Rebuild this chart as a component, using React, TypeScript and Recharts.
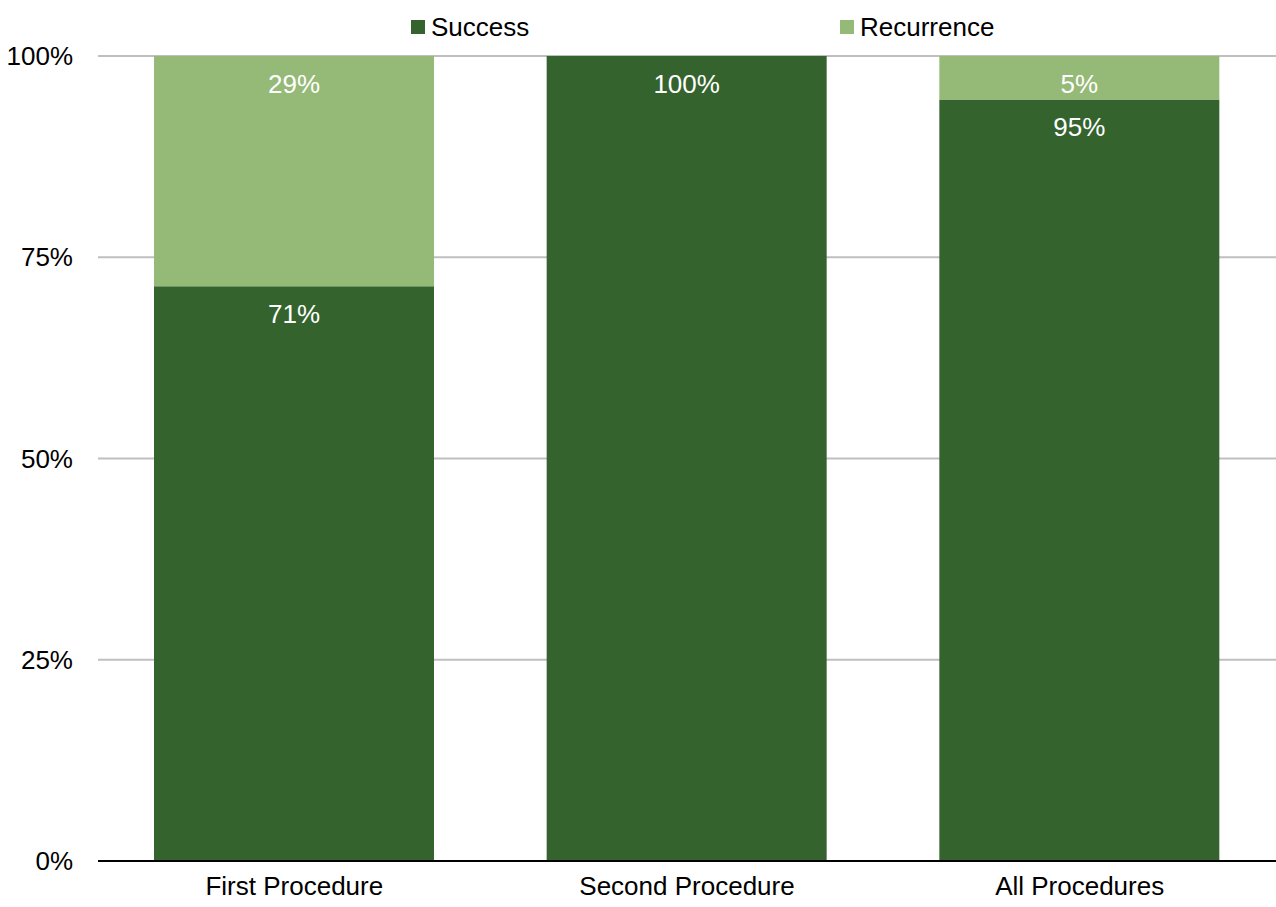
import type { FC } from "react";
import { BarChart, Bar, XAxis, YAxis, CartesianGrid, LabelList } from "recharts";

const categories = ["First Procedure", "Second Procedure", "All Procedures"];
const success = [71.4, 100, 94.6];
const recurrence = [28.6, 0, 5.4];
const yTicks = [0, 25, 50, 75, 100];

const data = categories.map((name, i) => ({
    name,
    success: success[i],
    recurrence: recurrence[i],
}));

const DARK = "#34632e";
const LIGHT = "#95b976";
const FONT = "Liberation Sans, Arial, sans-serif";

const SegmentLabel: FC<any> = ({ x, y, width, value }) => {
    if (!value) return null;
    return (
        <text
            x={x + width / 2}
            y={y + 28}
            fill="#ffffff"
            fontSize={26}
            fontFamily={FONT}
            textAnchor="middle"
            dominantBaseline="central"
        >
            {Math.round(value)}%
        </text>
    );
};

const LegendBox: FC = () => (
    <div
        style={{
            position: "absolute",
            top: 12,
            left: 411,
            display: "flex",
            fontFamily: FONT,
            fontSize: 26,
            lineHeight: "30px",
            color: "#000",
        }}
    >
        {[
            { label: "Success", color: DARK },
            { label: "Recurrence", color: LIGHT },
        ].map((item, i) => (
            <div
                key={item.label}
                style={{ display: "flex", alignItems: "center", width: i === 0 ? 429 : "auto" }}
            >
                <span
                    style={{
                        width: 14,
                        height: 14,
                        background: item.color,
                        display: "inline-block",
                        marginRight: 6,
                    }}
                />
                <span>{item.label}</span>
            </div>
        ))}
    </div>
);

const App: FC = () => {
    return (
        <div style={{ position: "absolute", left: 0, top: 0, width: 1276, height: 907, background: "#fff" }}>
            <LegendBox />
            <BarChart
                width={1276}
                height={907}
                data={data}
                margin={{ top: 56, right: 0, bottom: 0, left: 0 }}
                barSize={280}
            >
                <CartesianGrid vertical={false} stroke="#bfbfbf" strokeWidth={2} />
                <XAxis
                    dataKey="name"
                    height={46}
                    tickLine={false}
                    tickSize={0}
                    tickMargin={16}
                    axisLine={{ stroke: "#000", strokeWidth: 2 }}
                    tick={{ fill: "#000", fontSize: 26, fontFamily: FONT }}
                />
                <YAxis
                    width={98}
                    domain={[0, 100]}
                    ticks={yTicks}
                    tickFormatter={(v) => `${v}%`}
                    axisLine={false}
                    tickLine={false}
                    tickSize={0}
                    tickMargin={25}
                    tick={{ fill: "#000", fontSize: 26, fontFamily: FONT }}
                />
                <Bar dataKey="success" stackId="a" fill={DARK} isAnimationActive={false}>
                    <LabelList dataKey="success" content={<SegmentLabel />} />
                </Bar>
                <Bar dataKey="recurrence" stackId="a" fill={LIGHT} isAnimationActive={false}>
                    <LabelList dataKey="recurrence" content={<SegmentLabel />} />
                </Bar>
            </BarChart>
        </div>
    );
};

export default App;
